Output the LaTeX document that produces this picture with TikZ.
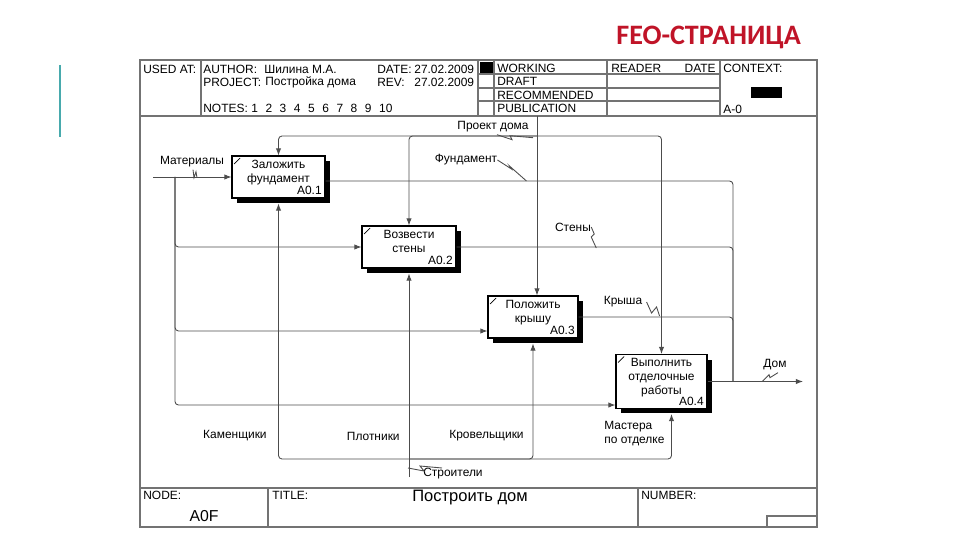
\documentclass[tikz,border=0pt]{standalone}
\usepackage{fontspec}
\setmainfont{Liberation Sans}
\newfontfamily\pagefont{Carlito}
\usetikzlibrary{arrows.meta,positioning,shadows}
\definecolor{wirecol}{gray}{0.3}
\definecolor{framecol}{gray}{0.45}
\definecolor{pagered}{RGB}{192,20,40}
\definecolor{accent}{RGB}{72,170,173}
\newcommand{\nsp}{\hspace{4.3pt}}

\begin{document}
\begin{tikzpicture}[x=0.02cm, y=-0.02cm,
  every node/.style={font=\fontsize{6.8}{7.9}\selectfont, inner sep=0pt},
  rule/.style={draw=framecol, line width=0.6pt},
  field/.style={anchor=west},
  activity/.style={draw, line width=0.6pt, fill=white, align=center,
    drop shadow={shadow xshift=0.1cm, shadow yshift=-0.1cm, fill=black, opacity=1},
    path picture={\draw[line width=0.4pt] ([xshift=0.04cm,yshift=-0.16cm]path picture bounding box.north west) -- ++(0.12cm,0.12cm);}},
  boxnum/.style={anchor=south east, inner sep=2pt},
  wire/.style={draw=wirecol, line width=0.5pt},
  arr/.style={-{Latex[length=4pt,width=3pt]}},
  lbl/.style={align=left}
]
  \useasboundingbox (0,0) rectangle (960,540);

  % page heading
  \draw[accent, line width=1.4pt] (60,65) -- (60,137);
  \node[font=\pagefont\bfseries\fontsize{16}{18}\selectfont, text=pagered, anchor=west] (pagetitle) at (616,37) {FEO-СТРАНИЦА};

  % form frame
  \draw[rule] (140,60) rectangle (817,527);
  \draw[rule] (140,116) -- (817,116);
  \draw[rule] (201,60) -- (201,116);
  \draw[rule] (478,60) -- (478,116);
  \draw[rule] (494,60) -- (494,116);
  \draw[rule] (607,60) -- (607,116);
  \draw[rule] (720,60) -- (720,116);
  \draw[rule] (478,74) -- (720,74);
  \draw[rule] (478,88) -- (720,88);
  \draw[rule] (478,101) -- (720,101);
  \fill (480,62) rectangle (493,73);
  \fill (751,87) rectangle (782,98);
  \draw[rule] (140,488) -- (817,488);
  \draw[rule] (268,488) -- (268,527);
  \draw[rule] (638,488) -- (638,527);
  \draw[rule] (767,527) |- (817,516);

  \node[field] (usedat) at (143,69) {USED AT:};
  \node[field] (author) at (203,69) {AUTHOR:};
  \node[field] (authorv) at (264,69) {Шилина М.А.};
  \node[field] (project) at (203,82) {PROJECT:};
  \node[field] (projectv) at (265,82) {Постройка дома};
  \node[field] (notes) at (203,108) {NOTES:};
  \node[field] (notesv) at (251,108) {1\nsp2\nsp3\nsp4\nsp5\nsp6\nsp7\nsp8\nsp9\nsp10};
  \node[field] (date) at (377,69) {DATE:};
  \node[field] (datev) at (414,69) {27.02.2009};
  \node[field] (rev) at (377,82) {REV:};
  \node[field] (revv) at (414,82) {27.02.2009};
  \node[field] (working) at (497,68) {WORKING};
  \node[field] (draft) at (497,81) {DRAFT};
  \node[field] (recomm) at (497,95) {RECOMMENDED};
  \node[field] (publ) at (497,108) {PUBLICATION};
  \node[field] (reader) at (611,68) {READER};
  \node[anchor=east] (rdate) at (716,68) {DATE};
  \node[field] (context) at (723,68) {CONTEXT:};
  \node[field] (ctxnode) at (723,109) {A-0};

  \node[field] (nodef) at (143,495) {NODE:};
  \node[font=\fontsize{9}{10}\selectfont] (nodev) at (204,516) {A0F};
  \node[field] (titlef) at (272,495) {TITLE:};
  \node[font=\fontsize{9.4}{11}\selectfont] (titlev) at (470,498) {Построить дом};
  \node[field] (numberf) at (641,495) {NUMBER:};

  % activities
  \node[activity, minimum width=1.86cm, minimum height=0.84cm] (a1) at (278.5,177) {Заложить\\фундамент\\[-3.4pt]\strut};
  \node[activity, minimum width=1.88cm, minimum height=0.84cm] (a2) at (409,247) {Возвести\\стены\\[-3.4pt]\strut};
  \node[activity, minimum width=1.80cm, minimum height=0.84cm] (a3) at (533,317) {Положить\\крышу\\[-3.4pt]\strut};
  \node[activity, minimum width=1.82cm, minimum height=1.08cm] (a4) at (661.5,381.5) {Выполнить\\отделочные\\работы\\[-4.5pt]\strut};
  \node[boxnum] (a1n) at (a1.south east) {A0.1};
  \node[boxnum] (a2n) at (a2.south east) {A0.2};
  \node[boxnum] (a3n) at (a3.south east) {A0.3};
  \node[boxnum] (a4n) at (a4.south east) {A0.4};

  \coordinate (matin) at (153,177);
  \coordinate (matbus) at (175,177);
  \coordinate (projin) at (537,116);
  \coordinate (projbus) at (537,136);
  \coordinate (outbus) at (733,381.5);
  \coordinate (domout) at (803,381.5);
  \coordinate (mechbus) at (409,459);
  \coordinate (mechin) at (409,477);

  % inputs
  \draw[wire, arr] (matin) -- (a1.west);
  \draw[wire, arr, rounded corners=2pt] (matbus) |- (a2.west);
  \draw[wire, arr, rounded corners=2pt] (matbus) |- ([yshift=-0.28cm]a3.west);
  \draw[wire, arr, rounded corners=2pt] (matbus) |- ([yshift=0.08cm]a4.south west);

  % controls
  \draw[wire, arr] (projin) -- (projin |- a3.north);
  \draw[wire, arr, rounded corners=2pt] (projbus) -| (a1.north);
  \draw[wire, arr, rounded corners=2pt] (projbus) -| (a2.north);
  \draw[wire, arr, rounded corners=2pt] (projbus) -| (a4.north);

  % outputs
  \draw[wire, rounded corners=2pt] ([yshift=-0.08cm]a1.east) -| (outbus);
  \draw[wire, rounded corners=2pt] (a2.east) -| (outbus);
  \draw[wire, rounded corners=2pt] (a3.east) -| (outbus);
  \draw[wire, arr] (a4.east) -- (domout);

  % mechanisms
  \draw[wire, arr] (mechin) -- ([yshift=-0.1cm]a2.south);
  \draw[wire, arr, rounded corners=2pt] (mechbus) -| ([yshift=-0.1cm]a1.south);
  \draw[wire, arr, rounded corners=2pt] (mechbus) -| ([yshift=-0.1cm]a3.south);
  \draw[wire, arr, rounded corners=2pt] (mechbus) -| ([xshift=0.2cm,yshift=-0.1cm]a4.south);

  % arrow labels
  \node (lblmat) at (192,162) {Материалы};
  \node (lblproj) at (493,127) {Проект дома};
  \node (lblfund) at (466,160) {Фундамент};
  \node (lblwall) at (573,227) {Стены};
  \node (lblroof) at (623,302) {Крыша};
  \node (lblhouse) at (775,365) {Дом};
  \node[anchor=east] (lblmason) at (267,436) {Каменщики};
  \node[anchor=east] (lblcarp) at (400,436) {Плотники};
  \node[anchor=east] (lblroofer) at (524,436) {Кровельщики};
  \node[lbl, anchor=west] (lblfinish) at (604,434) {Мастера\\по отделке};
  \node (lblbuild) at (453,474) {Строители};

  \draw[wire] (lblmat.south) ++(1,2) -- ++(1,8) -- ++(2,-6) -- ++(1,6);
  \draw[wire] (lblproj.south) ++(4,2) -- ++(15,5) -- ++(-2,-4) -- ++(23,2);
  \draw[wire] (lblfund.east) -- ++(14,9) -- ++(-2,-3) -- ++(17,15);
  \draw[wire] (lblwall.east) -- ++(3,7) -- ++(-3,3) -- ++(5,11);
  \draw[wire] (lblroof.east) ++(4,0) -- ++(5,11) -- ++(5,-6) -- ++(3,9);
  \draw[wire] (lblhouse.south) ++(-13,11) -- ++(7,-7) -- ++(1,3) -- ++(8,-5);
  \draw[wire] (lblbuild.west) ++(-15,-6) -- ++(16,3) -- ++(-4,-5) -- ++(22,2);
\end{tikzpicture}
\end{document}
